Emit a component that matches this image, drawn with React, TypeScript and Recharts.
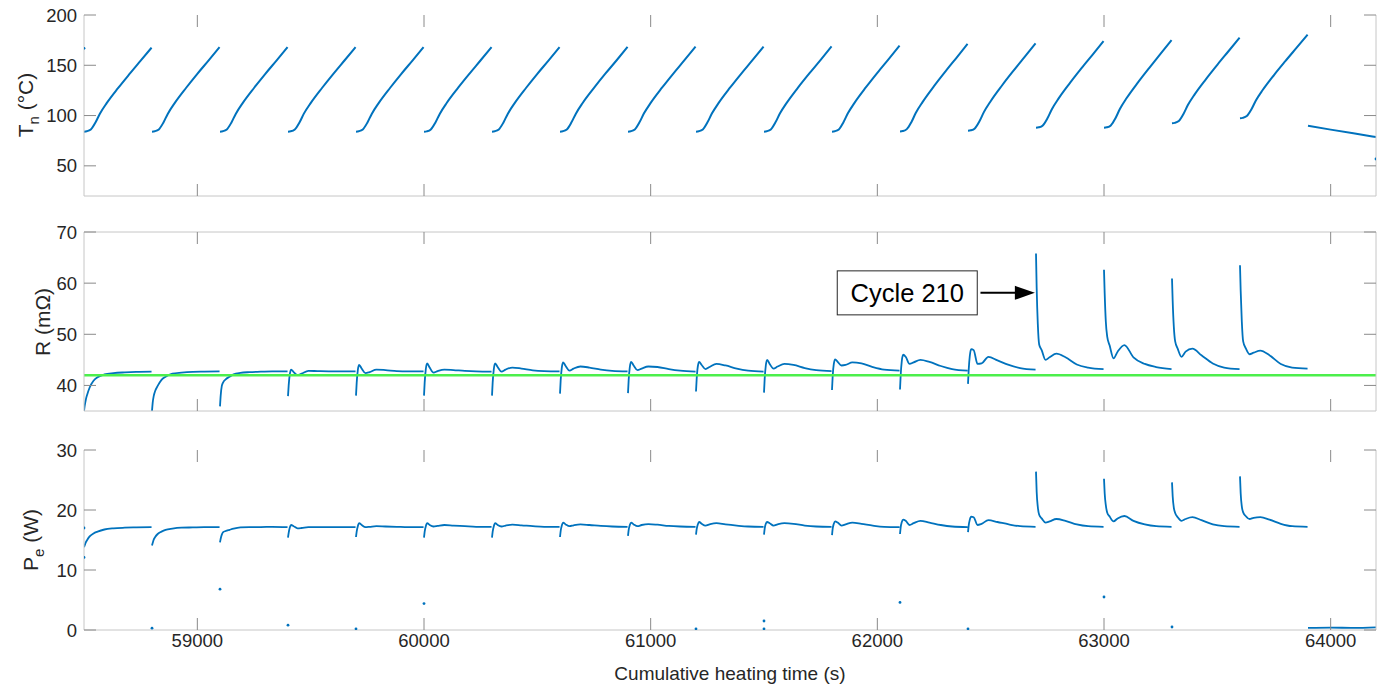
import React from "react";
import {
    ComposedChart, Line, Scatter, XAxis, YAxis, ReferenceLine, ReferenceDot
} from "recharts";

const FONT = '"Liberation Sans", Arial, Helvetica, sans-serif';
const BLUE = "#0072BD";
const AXIS = "#c6c6c6";
const TICK = "#8a8a8a";
const TEXT = "#262626";

const X_DOMAIN = [58500, 64200];

// start of each heating cycle (s)
const cycleStarts = [
    58500, 58800, 59100, 59400, 59700, 60000, 60300, 60600, 60900,
    61200, 61500, 61800, 62100, 62400, 62700, 63000, 63300, 63600,
];
const timeTicks = [59000, 60000, 61000, 62000, 63000, 64000];

// Tn: samples at these seconds after each cycle start
const tnOffsets = [0, 12, 30, 50, 70, 100, 150, 200, 250, 298];
const tnCycles = [
    [84.0, 84.4, 86.2, 92.9, 101.8, 112.3, 127.2, 141.1, 154.6, 167.5],
    [84.0, 84.4, 86.2, 92.9, 101.9, 112.4, 127.4, 141.5, 154.9, 168.0],
    [84.0, 84.4, 86.2, 92.9, 101.9, 112.4, 127.4, 141.5, 154.9, 168.0],
    [84.0, 84.3, 86.1, 92.8, 101.9, 112.4, 127.4, 141.5, 155.0, 168.0],
    [84.0, 84.4, 86.2, 92.9, 101.9, 112.4, 127.4, 141.5, 154.9, 168.0],
    [83.9, 84.3, 86.2, 92.9, 101.9, 112.5, 127.5, 141.5, 155.0, 168.1],
    [84.0, 84.4, 86.2, 92.9, 101.9, 112.4, 127.4, 141.5, 154.9, 168.0],
    [84.0, 84.4, 86.2, 93.0, 101.9, 112.5, 127.5, 141.6, 155.0, 168.2],
    [84.0, 84.4, 86.2, 93.0, 102.0, 112.6, 127.7, 141.8, 155.3, 168.5],
    [84.0, 84.4, 86.2, 93.0, 102.0, 112.6, 127.7, 141.8, 155.3, 168.5],
    [84.0, 84.4, 86.2, 93.0, 102.0, 112.6, 127.8, 141.9, 155.4, 168.7],
    [84.0, 84.4, 86.2, 93.1, 102.2, 112.9, 128.2, 142.5, 156.2, 169.5],
    [84.2, 84.6, 86.5, 93.4, 102.8, 113.6, 129.2, 143.7, 157.7, 171.2],
    [84.9, 85.3, 87.2, 94.1, 103.4, 114.3, 129.9, 144.4, 158.4, 171.8],
    [87.9, 88.3, 90.2, 97.0, 106.3, 117.1, 132.5, 146.9, 160.7, 174.1],
    [87.9, 88.3, 90.2, 97.1, 106.5, 117.4, 133.0, 147.5, 161.6, 175.1],
    [92.3, 92.7, 94.5, 101.3, 110.4, 121.1, 136.3, 150.5, 164.2, 177.4],
    [97.3, 97.7, 99.5, 106.1, 115.0, 125.4, 140.3, 154.1, 167.5, 180.4],
];
// cool-down after the last cycle
const tnCoolTimes = [63900, 64000, 64100, 64200];
const tnCoolValues = [89.9, 86.0, 82.3, 78.7];
const tnLoneTimes = [58500, 64200];
const tnLoneValues = [166.9, 56.8];

// R and Pe share the same sampling inside a cycle
const recOffsets = [0, 3, 8, 14, 25, 42, 60, 90, 130, 180, 230, 298];
const rCycles = [
    [35.0, 36.0, 37.2, 38.2, 39.6, 40.9, 41.6, 42.15, 42.4, 42.55, 42.65, 42.7],
    [35.0, 36.6, 38.0, 38.9, 39.9, 41.1, 41.7, 42.3, 42.5, 42.65, 42.7, 42.75],
    [35.9, 38.0, 39.9, 40.6, 41.2, 41.7, 42.15, 42.45, 42.6, 42.7, 42.75, 42.75],
    [37.9, 40.0, 42.2, 43.1, 42.6, 42.0, 42.3, 42.85, 42.8, 42.75, 42.75, 42.75],
    [38.0, 40.5, 43.0, 44.0, 43.3, 42.4, 42.6, 43.1, 43.0, 42.8, 42.75, 42.75],
    [38.0, 40.6, 43.2, 44.3, 43.5, 42.5, 42.8, 43.1, 43.0, 42.85, 42.75, 42.7],
    [38.0, 40.6, 43.2, 44.3, 43.6, 42.7, 43.1, 43.5, 43.3, 42.95, 42.8, 42.75],
    [38.4, 41.0, 43.5, 44.5, 43.8, 42.9, 43.3, 43.7, 43.5, 43.1, 42.85, 42.75],
    [38.5, 41.1, 43.6, 44.6, 43.9, 43.0, 43.3, 43.7, 43.6, 43.2, 42.9, 42.7],
    [38.8, 41.3, 43.7, 44.6, 44.0, 43.2, 43.6, 44.2, 43.9, 43.3, 42.9, 42.7],
    [38.6, 41.3, 43.9, 45.0, 44.2, 43.3, 43.7, 44.2, 44.0, 43.4, 43.0, 42.8],
    [39.1, 41.8, 44.2, 45.1, 44.6, 43.9, 44.0, 44.5, 44.3, 43.6, 43.1, 42.9],
    [39.2, 42.0, 44.8, 46.0, 45.6, 44.2, 44.5, 45.0, 44.6, 43.8, 43.2, 42.9],
    [40.3, 43.0, 45.8, 47.1, 46.9, 44.2, 44.3, 45.6, 44.9, 44.0, 43.4, 43.1],
    [65.8, 59.0, 52.0, 48.0, 46.9, 45.0, 45.5, 46.2, 45.5, 44.1, 43.5, 43.2],
    [62.6, 58.0, 52.5, 49.6, 47.8, 45.3, 46.6, 47.9, 45.5, 44.2, 43.6, 43.2],
    [60.9, 56.5, 51.5, 48.6, 47.2, 45.6, 46.6, 47.2, 45.9, 44.3, 43.5, 43.2],
    [63.5, 58.5, 52.5, 48.6, 47.3, 46.1, 46.4, 46.8, 45.9, 44.2, 43.5, 43.3],
];
const R_LIMIT = 42;

const peCycles = [
    [13.8, 14.1, 14.6, 15.0, 15.6, 16.1, 16.4, 16.75, 16.95, 17.05, 17.1, 17.15],
    [14.1, 14.5, 15.1, 15.5, 16.0, 16.4, 16.7, 16.9, 17.05, 17.1, 17.15, 17.15],
    [14.6, 15.2, 15.9, 16.3, 16.5, 16.7, 16.9, 17.1, 17.15, 17.15, 17.2, 17.15],
    [15.4, 16.2, 17.1, 17.5, 17.3, 16.95, 17.0, 17.15, 17.15, 17.15, 17.15, 17.15],
    [15.5, 16.4, 17.3, 17.8, 17.5, 17.15, 17.2, 17.3, 17.25, 17.2, 17.15, 17.15],
    [15.4, 16.4, 17.3, 17.8, 17.5, 17.25, 17.35, 17.5, 17.4, 17.3, 17.2, 17.2],
    [15.4, 16.4, 17.3, 17.8, 17.5, 17.25, 17.4, 17.55, 17.45, 17.3, 17.2, 17.2],
    [15.5, 16.5, 17.4, 17.9, 17.6, 17.3, 17.45, 17.6, 17.5, 17.35, 17.25, 17.2],
    [15.7, 16.7, 17.5, 17.9, 17.6, 17.3, 17.5, 17.65, 17.55, 17.35, 17.25, 17.2],
    [15.9, 16.8, 17.6, 18.0, 17.7, 17.4, 17.6, 17.8, 17.6, 17.4, 17.25, 17.2],
    [15.9, 16.9, 17.7, 18.0, 17.8, 17.4, 17.6, 17.8, 17.7, 17.4, 17.25, 17.2],
    [15.8, 16.9, 17.7, 18.1, 17.9, 17.4, 17.6, 17.9, 17.7, 17.4, 17.2, 17.15],
    [16.0, 17.1, 18.0, 18.4, 18.2, 17.5, 17.8, 18.2, 17.9, 17.5, 17.25, 17.15],
    [16.3, 17.4, 18.4, 18.9, 18.8, 17.5, 17.7, 18.3, 18.0, 17.6, 17.3, 17.2],
    [26.4, 23.0, 20.5, 19.2, 18.6, 17.9, 18.1, 18.5, 18.2, 17.6, 17.3, 17.2],
    [25.2, 22.8, 20.8, 19.6, 18.9, 18.1, 18.6, 19.0, 18.2, 17.6, 17.3, 17.2],
    [24.6, 22.3, 20.4, 19.5, 18.8, 18.2, 18.5, 18.8, 18.3, 17.6, 17.3, 17.2],
    [25.6, 22.8, 20.6, 19.6, 19.0, 18.5, 18.7, 18.8, 18.4, 17.7, 17.3, 17.2],
];
const peOffTimes = [63900, 64000, 64100, 64200];
const peOffValues = [0.35, 0.4, 0.35, 0.45];
// isolated samples at the switching instants
const peLoneTimes = [58500, 58500, 58800, 59100, 59400, 59700, 60000, 61200, 61500, 61500, 62100, 62400, 63000, 63300];
const peLoneValues = [17.0, 12.1, 0.3, 6.8, 0.8, 0.2, 4.4, 0.2, 1.5, 0.2, 4.6, 0.2, 5.5, 0.5];

type Row = { t: number; v: number | null };

function buildRows(offsets: number[], cycles: number[][], tailT: number[] = [], tailV: number[] = []) {
    const rows: Row[] = [];
    cycles.forEach((vals, i) => {
        offsets.forEach((o, j) => rows.push({ t: cycleStarts[i] + o, v: vals[j] }));
        rows.push({ t: cycleStarts[i] + 299, v: null }); // break between cycles
    });
    tailT.forEach((t, j) => rows.push({ t, v: tailV[j] }));
    return rows;
}

const zip = (ts: number[], vs: number[]) => ts.map((t, i) => ({ t, v: vs[i] }));

const tnRows = buildRows(tnOffsets, tnCycles, tnCoolTimes, tnCoolValues);
const rRows = buildRows(recOffsets, rCycles);
const peRows = buildRows(recOffsets, peCycles, peOffTimes, peOffValues);

// eslint-disable-next-line @typescript-eslint/no-explicit-any
const smallDot = (p: any) => <circle cx={p.cx} cy={p.cy} r={1.4} fill={BLUE} />;
const blank = () => "";
const tickFont = { fill: TEXT, fontSize: 18.5, fontFamily: FONT };

// bottom + top time axes and left + right value axes, ticks pointing inward
function frame(yDomain: number[], yTicks: number[], showTimeLabels: boolean, topLine: boolean) {
    return [
        <XAxis key="xb" dataKey="t" type="number" domain={X_DOMAIN} ticks={timeTicks} interval={0}
            allowDataOverflow height={showTimeLabels ? 58 : 19} stroke={AXIS}
            tickLine={{ stroke: TICK }} tickSize={-12} tickMargin={16}
            tick={tickFont} tickFormatter={showTimeLabels ? undefined : blank} />,
        <XAxis key="xt" xAxisId="top" orientation="top" dataKey="t" type="number" domain={X_DOMAIN}
            ticks={timeTicks} interval={0} allowDataOverflow height={1}
            axisLine={topLine ? { stroke: AXIS } : false} tickLine={{ stroke: TICK }} tickSize={-12}
            tick={tickFont} tickFormatter={blank} />,
        <YAxis key="yl" type="number" domain={yDomain} ticks={yTicks} interval={0} allowDataOverflow
            width={60} stroke={AXIS} tickLine={{ stroke: TICK }} tickSize={-12} tickMargin={19}
            tick={tickFont} />,
        <YAxis key="yr" yAxisId="right" orientation="right" type="number" domain={yDomain} ticks={yTicks}
            interval={0} allowDataOverflow width={1} stroke={AXIS} tickLine={{ stroke: TICK }}
            tickSize={-12} tick={tickFont} tickFormatter={blank} />,
        // keeps the mirrored axes bound to the same rows
        <Line key="mirror" xAxisId="top" yAxisId="right" dataKey="v" stroke="none" dot={false}
            activeDot={false} legendType="none" isAnimationActive={false} />,
    ];
}

export default function App() {
    return (
        <div style={{ position: "absolute", left: 0, top: 0, width: 1384, height: 688, background: "#fff", fontFamily: FONT }}>
            {/* Tn */}
            <div style={{ position: "absolute", left: 0, top: 0 }}>
                <ComposedChart width={1384} height={215} data={tnRows} margin={{ top: 14, right: 7, bottom: 0, left: 24 }}>
                    {frame([20, 200], [50, 100, 150, 200], false, false)}
                    <Line type="monotone" dataKey="v" stroke={BLUE} strokeWidth={2} dot={false} activeDot={false} isAnimationActive={false} />
                    <Scatter data={zip(tnLoneTimes, tnLoneValues)} dataKey="v" shape={smallDot} isAnimationActive={false} />
                </ComposedChart>
            </div>

            {/* R */}
            <div style={{ position: "absolute", left: 0, top: 215 }}>
                <ComposedChart width={1384} height={215} data={rRows} margin={{ top: 16, right: 7, bottom: 0, left: 24 }}>
                    {frame([35, 70], [40, 50, 60, 70], false, true)}
                    <Line type="monotone" dataKey="v" stroke={BLUE} strokeWidth={1.8} dot={false} activeDot={false} isAnimationActive={false} />
                    <ReferenceLine y={R_LIMIT} stroke="#4cef4c" strokeWidth={2.5} />
                    <ReferenceLine segment={[{ x: 62455, y: 58.1 }, { x: 62615, y: 58.1 }]} stroke="#000" strokeWidth={2} />
                    <ReferenceDot x={62695} y={58.1} shape={(p: any) => (
                        <polygon points={`${p.cx},${p.cy} ${p.cx - 20},${p.cy - 7} ${p.cx - 20},${p.cy + 7}`} fill="#000" />
                    )} />
                    <ReferenceDot x={62132} y={58.1} shape={(p: any) => (
                        <g>
                            <rect x={p.cx - 70} y={p.cy - 22} width={140} height={44} fill="#fff" stroke="#262626" strokeWidth={1} />
                            <text x={p.cx} y={p.cy + 9} textAnchor="middle" fontSize={25.5} fontFamily={FONT} fill="#000">Cycle 210</text>
                        </g>
                    )} />
                </ComposedChart>
            </div>

            {/* Pe */}
            <div style={{ position: "absolute", left: 0, top: 430 }}>
                <ComposedChart width={1384} height={258} data={peRows} margin={{ top: 19, right: 7, bottom: 0, left: 24 }}>
                    {frame([0, 30], [0, 10, 20, 30], true, false)}
                    <Line type="monotone" dataKey="v" stroke={BLUE} strokeWidth={1.8} dot={false} activeDot={false} isAnimationActive={false} />
                    <Scatter data={zip(peLoneTimes, peLoneValues)} dataKey="v" shape={smallDot} isAnimationActive={false} />
                </ComposedChart>
            </div>

            {/* axis titles */}
            <svg width={1384} height={688} style={{ position: "absolute", left: 0, top: 0, pointerEvents: "none" }}>
                <g fontFamily={FONT} fill={TEXT} fontSize={21}>
                    <text x={33} y={105} transform="rotate(-90 33 105)" textAnchor="middle">
                        T<tspan dy={6} fontSize={15}>n</tspan><tspan dy={-6}> (°C)</tspan>
                    </text>
                    <text x={50} y={322} transform="rotate(-90 50 322)" textAnchor="middle">R (mΩ)</text>
                    <text x={38} y={540} transform="rotate(-90 38 540)" textAnchor="middle">
                        P<tspan dy={6} fontSize={15}>e</tspan><tspan dy={-6}> (W)</tspan>
                    </text>
                    <text x={730} y={680} textAnchor="middle" fontSize={19}>Cumulative heating time (s)</text>
                </g>
            </svg>
        </div>
    );
}
